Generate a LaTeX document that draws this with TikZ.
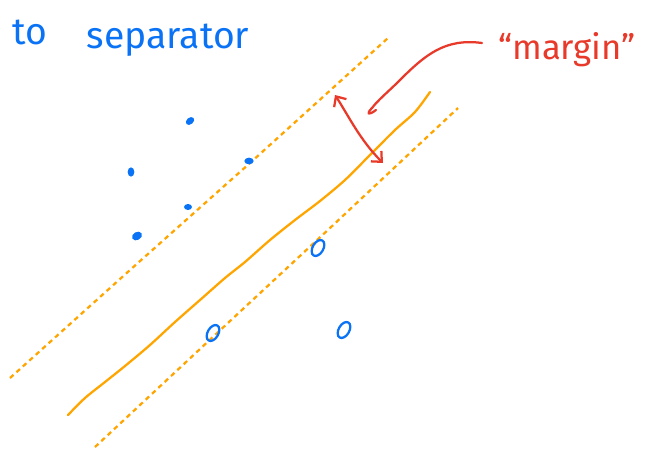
\documentclass[tikz,border=0pt]{standalone}
\usepackage{fontspec}
\setmainfont{Fira Sans}
\usetikzlibrary{arrows.meta,shapes.geometric}
\definecolor{inkblue}{RGB}{10,115,245}
\definecolor{inkorange}{RGB}{255,165,0}
\definecolor{inkred}{RGB}{232,58,42}
\begin{document}
\begin{tikzpicture}[x=0.75pt,y=-0.75pt,
  bluetext/.style={inner sep=0pt, text=inkblue, font=\fontsize{28}{32}\selectfont},
  redtext/.style={inner sep=0pt, text=inkred, font=\fontsize{26}{30}\selectfont},
  sepline/.style={inkorange, line width=1.7pt, line cap=round, line join=round},
  marginline/.style={inkorange, line width=1.7pt, dash pattern=on 3.5pt off 3pt},
  redink/.style={inkred, line width=1.7pt, line cap=round, line join=round},
  dotpt/.style={ellipse, fill=inkblue, inner sep=0pt, minimum width=7pt, minimum height=5pt},
  ringpt/.style={ellipse, draw=inkblue, line width=1.7pt, inner sep=0pt, minimum width=8pt, minimum height=13pt, rotate=-30}]
\useasboundingbox (0,0) rectangle (648,450);

% title
\node[bluetext] (to) at (30,32) {to};
\node[bluetext] (sep) at (168,40) {separator};

% margin label
\node[redtext] (margin) at (567,50) {“margin”};

% separator and margins
\draw[sepline] plot[smooth] coordinates {(68,415) (85,398) (105,382) (125,366) (150,345) (175,322) (200,300) (225,278) (245,262) (270,240) (295,220) (320,201) (345,180) (370,155) (395,130) (415,112) (430,92)};
\draw[marginline] (10,378) -- (130,270) -- (250,163) -- (388,38);
\draw[marginline] (95,447) -- (215,335) -- (330,228) -- (458,108);

% class 1 points
\node[dotpt, rotate=40] (p1) at (190,121) {};
\node[dotpt, rotate=90] (p2) at (131,172) {};
\node[dotpt] (p3) at (249,161) {};
\node[dotpt, minimum width=6pt, minimum height=4.5pt] (p4) at (188,207) {};
\node[dotpt, minimum width=8pt, minimum height=6pt, rotate=30] (p5) at (137,236) {};

% class 2 points
\node[ringpt] (q1) at (318,248) {};
\node[ringpt] (q2) at (213,333) {};
\node[ringpt] (q3) at (344,330) {};

% margin arrow and pointer
\coordinate (mtop) at (335,95);
\coordinate (mbot) at (383,163);
\draw[redink, {Straight Barb[length=6pt,width=11pt]}-{Straight Barb[length=6pt,width=11pt]}] (mtop) .. controls (348,115) and (360,140) .. (mbot);
\coordinate (ptr) at (372,108);
\draw[redink] (482,43) .. controls (445,38) and (425,55) .. (400,80) .. controls (388,92) and (378,100) .. (ptr) .. controls (366,114) and (368,116) .. (376,110);
\end{tikzpicture}
\end{document}
